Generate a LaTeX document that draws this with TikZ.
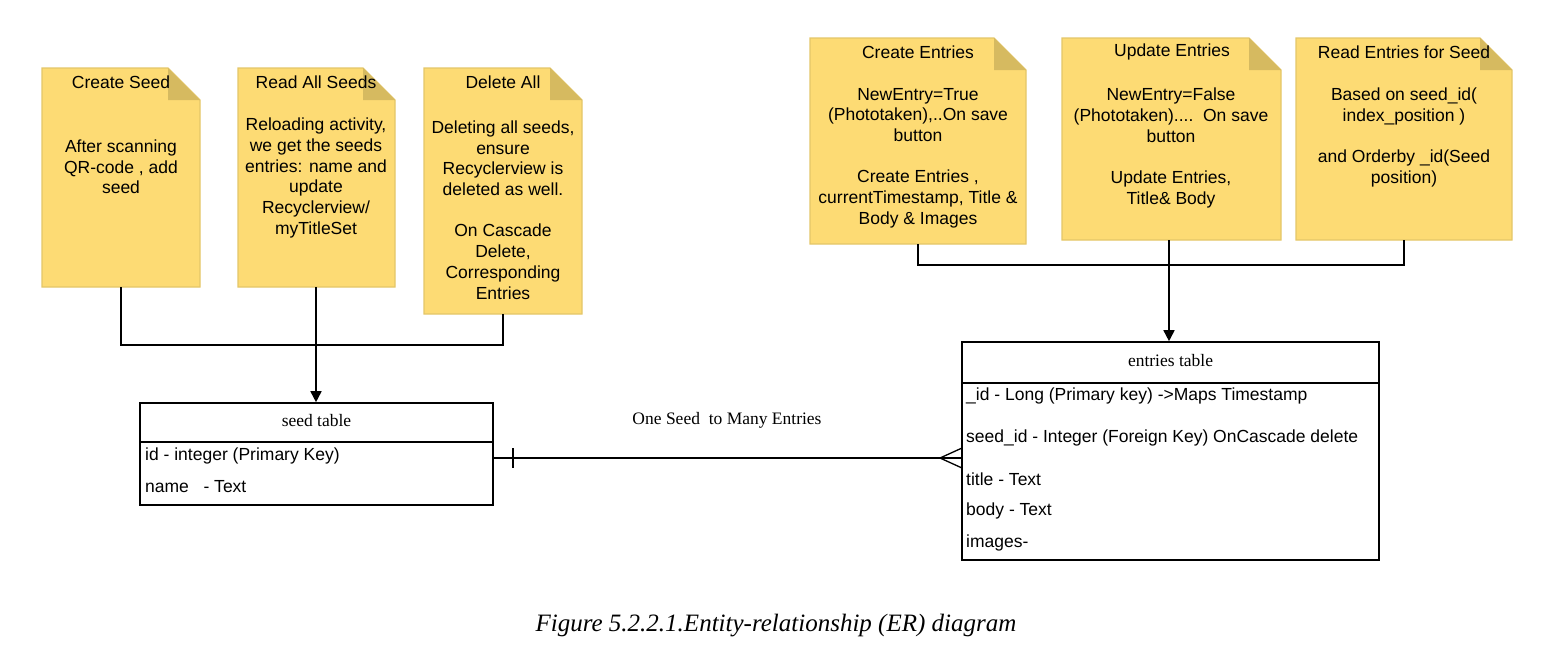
\documentclass[tikz,border=0pt]{standalone}
\usepackage{fontspec}
\setmainfont{Liberation Serif}
\setsansfont{Liberation Sans}
\usetikzlibrary{arrows.meta,fit}
\definecolor{notefill}{RGB}{253,219,116}
\definecolor{foldfill}{RGB}{214,186,96}
\definecolor{noteedge}{RGB}{228,198,104}
\newcommand\stickynote[5]{%
  \filldraw[fill=notefill,draw=noteedge,line width=1.2pt] (#2,#3) -- ({#4-32},#3) -- (#4,{#3+32}) -- (#4,#5) -- (#2,#5) -- cycle;
  \fill[foldfill] ({#4-32},#3) -- ({#4-32},{#3+32}) -- (#4,{#3+32}) -- cycle;
  \path (#2,#3) coordinate (#1-nw) (#4,#5) coordinate (#1-se);
  \node[inner sep=0pt, fit=(#1-nw)(#1-se)] (#1) {};
}
\tikzset{
  notetxt/.style={font=\sffamily\fontsize{17.5}{20.7}\selectfont, align=center, inner sep=0pt},
  rowtxt/.style={font=\sffamily\fontsize{17.5}{20.7}\selectfont, anchor=west, inner sep=0pt},
  serif/.style={font=\rmfamily\fontsize{17.5}{20.7}\selectfont, inner sep=0pt},
  link/.style={line width=1.6pt, black},
  tablebox/.style={draw=black, line width=1.6pt, inner sep=0pt},
  arr/.style={link, -{Triangle[length=11pt,width=11pt]}},
}
\begin{document}
\begin{tikzpicture}[x=1pt,y=-1pt]
\useasboundingbox (0,0) rectangle (1546,670);
% left notes
\stickynote{cs}{42}{68}{200}{287}
\stickynote{ras}{238}{68}{395}{287}
\stickynote{da}{424}{68}{582}{314}
\node[notetxt] (cst) at (121,82) {Create Seed};
\node[notetxt] (csb) at (121,167) {After scanning\\QR-code , add\\seed};
\node[notetxt] (rast) at (316,82) {Read All Seeds};
\node[notetxt] (rasb) at (316,178) {Reloading activity,\\we get the seeds\\entries: name and\\update\\Recyclerview/\\myTitleSet};
\node[notetxt] (dat) at (503,82) {Delete All};
\node[notetxt] (dab) at (503,210) {Deleting all seeds,\\ensure\\Recyclerview is\\deleted as well.\\[20.7pt]On Cascade\\Delete,\\Corresponding\\Entries};
% right notes
\stickynote{ce}{810}{38}{1026}{244}
\stickynote{ue}{1062}{38}{1281}{240}
\stickynote{re}{1296}{38}{1512}{240}
\node[notetxt] (cet) at (918,52) {Create Entries};
\node[notetxt] (ceb) at (918,158) {NewEntry=True\\(Phototaken),..On save\\button\\[20.7pt]Create Entries ,\\currentTimestamp, Title \&\\Body \& Images};
\node[notetxt] (uet) at (1172,52) {Update Entries};
\node[notetxt] (ueb) at (1171,148) {NewEntry=False\\(Phototaken)....~~On save\\button\\[20.7pt]Update Entries,\\Title\& Body};
\node[notetxt] (ret) at (1404,52) {Read Entries for Seed};
\node[notetxt] (reb) at (1404,137.5) {Based on seed\_id(\\index\_position )\\[20.7pt]and Orderby \_id(Seed\\position)};
% tables
\node[tablebox, minimum width=353pt, minimum height=102pt] (seed) at (316.5,454) {};
\draw[link] (140,442) -- (493,442);
\node[serif] (seedh) at (316.5,421) {seed table};
\node[rowtxt] (s1) at (145,456) {id - integer (Primary Key)};
\node[rowtxt] (s2) at (145,487) {name~~ - Text};
\node[tablebox, minimum width=417pt, minimum height=218pt] (ent) at (1170.5,451) {};
\draw[link] (962,383) -- (1379,383);
\node[serif] (enth) at (1170.5,361) {entries table};
\node[rowtxt] (e1) at (966,396) {\_id - Long (Primary key) ->Maps Timestamp};
\node[rowtxt] (e2) at (966,438) {seed\_id - Integer (Foreign Key) OnCascade delete};
\node[rowtxt] (e3) at (966,479) {title - Text};
\node[rowtxt] (e4) at (966,511) {body - Text};
\node[rowtxt] (e5) at (966,543) {images-};
% connectors left
\coordinate (j1) at (316,345);
\draw[link] (cs.south) |- (j1) -| (da.south);
\draw[arr] (ras.south -| j1) -- (seed.north -| j1);
% connectors right
\coordinate (j2) at (1169,265);
\draw[link] (ce.south) |- (j2) -| (re.south);
\draw[arr] (ue.south -| j2) -- (ent.north -| j2);
% relationship
\draw[link] (seed.east |- 0,458) -- (ent.west |- 0,458);
\draw[line width=1.3pt] (513,448) -- (513,468);
\draw[line width=1.3pt] (962,448) -- (940,458) -- (962,468);
\node[serif] (rel) at (727,420) {One Seed~ to Many Entries};
% caption
\node[font=\rmfamily\itshape\fontsize{25}{30}\selectfont, inner sep=0pt] (cap) at (776,626) {Figure 5.2.2.1.Entity-relationship (ER) diagram};
\end{tikzpicture}
\end{document}
